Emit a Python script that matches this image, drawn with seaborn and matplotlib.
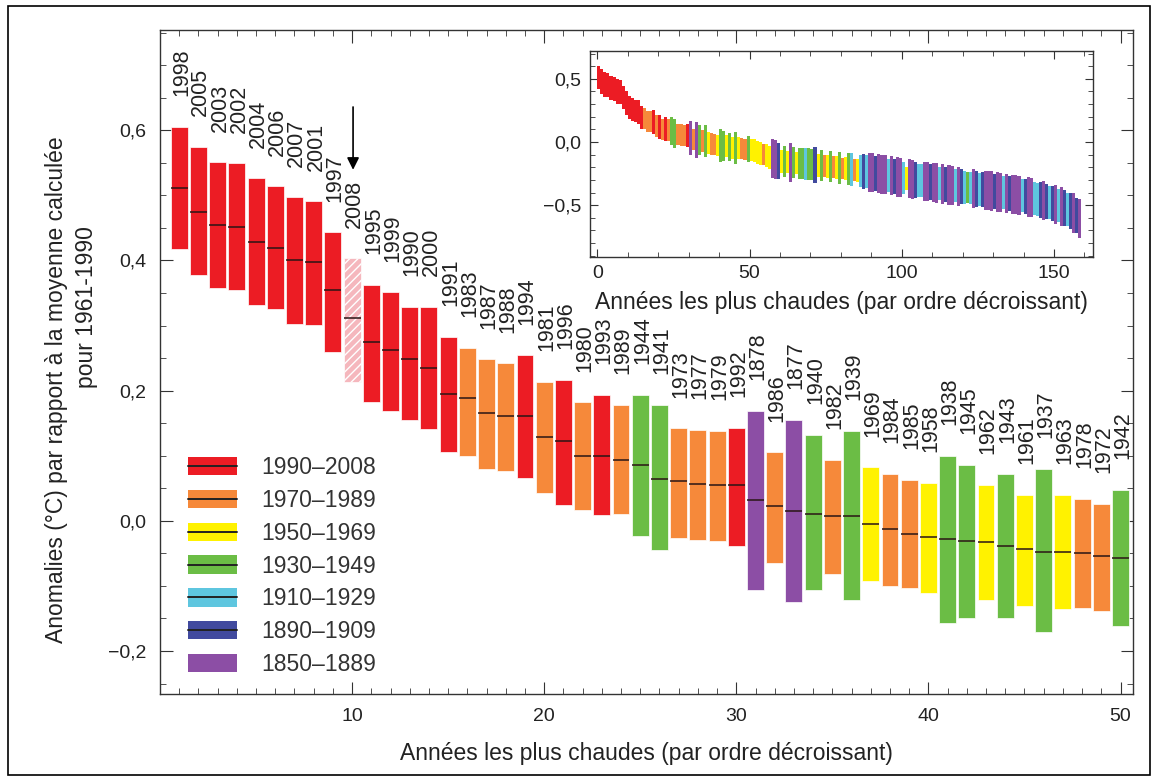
import numpy as np
import pandas as pd
import matplotlib
matplotlib.use("Agg")
import matplotlib.pyplot as plt
import seaborn as sns
from matplotlib import font_manager
from matplotlib.patches import Rectangle, Patch
from matplotlib.lines import Line2D
from matplotlib.legend_handler import HandlerBase
from matplotlib.ticker import MultipleLocator, FixedLocator, FuncFormatter

# 50 annees les plus chaudes (rang 1 -> 50)
years = [1998, 2005, 2003, 2002, 2004, 2006, 2007, 2001, 1997, 2008,
         1995, 1999, 1990, 2000, 1991, 1983, 1987, 1988, 1994, 1981,
         1996, 1980, 1993, 1989, 1944, 1941, 1973, 1977, 1979, 1992,
         1878, 1986, 1877, 1940, 1982, 1939, 1969, 1984, 1985, 1958,
         1938, 1945, 1962, 1943, 1961, 1937, 1963, 1978, 1972, 1942]
median = [0.512, 0.475, 0.455, 0.452, 0.429, 0.419, 0.401, 0.397, 0.354, 0.311,
          0.275, 0.262, 0.249, 0.235, 0.195, 0.188, 0.166, 0.161, 0.161, 0.129,
          0.122, 0.100, 0.100, 0.094, 0.086, 0.065, 0.061, 0.057, 0.055, 0.055,
          0.032, 0.023, 0.015, 0.011, 0.008, 0.008, -0.005, -0.012, -0.020, -0.025,
          -0.028, -0.031, -0.033, -0.038, -0.044, -0.048, -0.048, -0.049, -0.054, -0.057]
upper = [0.605, 0.575, 0.551, 0.549, 0.526, 0.514, 0.497, 0.491, 0.443, 0.403,
         0.363, 0.351, 0.329, 0.329, 0.283, 0.266, 0.248, 0.242, 0.254, 0.214,
         0.217, 0.182, 0.194, 0.178, 0.194, 0.178, 0.142, 0.140, 0.138, 0.143,
         0.169, 0.105, 0.155, 0.132, 0.094, 0.138, 0.082, 0.072, 0.063, 0.058,
         0.100, 0.086, 0.055, 0.072, 0.040, 0.080, 0.040, 0.034, 0.026, 0.048]
lower = [0.418, 0.377, 0.357, 0.354, 0.331, 0.325, 0.302, 0.301, 0.260, 0.214,
         0.183, 0.168, 0.155, 0.141, 0.106, 0.100, 0.080, 0.077, 0.066, 0.042,
         0.025, 0.017, 0.009, 0.010, -0.023, -0.045, -0.027, -0.029, -0.031, -0.038,
         -0.106, -0.065, -0.125, -0.106, -0.081, -0.121, -0.092, -0.100, -0.103, -0.111,
         -0.157, -0.149, -0.121, -0.149, -0.131, -0.171, -0.135, -0.134, -0.139, -0.162]
provisional = [2008]

# periodes de la legende
periods = ["1990–2008", "1970–1989", "1950–1969", "1930–1949",
           "1910–1929", "1890–1909", "1850–1889"]
period_start = [1990, 1970, 1950, 1930, 1910, 1890, 1850]
period_code = ["R", "O", "Y", "G", "C", "B", "P"]
period_colors = ["#ec1c24", "#f6893a", "#fff200", "#6bbd45",
                 "#5ec6df", "#414a9e", "#8c4ea5"]
period_halfwidth = [0.095, 0.085, 0.09, 0.125, 0.13, 0.14, 0.155]

# encart : rangs 51 -> 159 (periode + mediane)
inset_codes = ("YYYYOYYPPB" "YGYPGYGGCG" "GBYGOYGOYG" "OYGCOYCBCP" "PBPPPCPBPP"
               "CYPPBCCPPB" "PPCPBPPCPB" "CGCPBCBPPP" "BPPCPBPPPC" "BPPCCBPBCB"
               "PCPBCBPBP")
inset_median = [-0.063, -0.070, -0.081, -0.089, -0.100, -0.109, -0.121, -0.133, -0.141, -0.149,
                -0.152, -0.154, -0.159, -0.161, -0.162, -0.166, -0.169, -0.170, -0.174, -0.176,
                -0.179, -0.183, -0.184, -0.187, -0.190, -0.191, -0.195, -0.199, -0.201, -0.204,
                -0.208, -0.211, -0.213, -0.218, -0.221, -0.224, -0.229, -0.232, -0.236, -0.240,
                -0.243, -0.249, -0.252, -0.256, -0.259, -0.264, -0.268, -0.271, -0.277, -0.281,
                -0.285, -0.288, -0.292, -0.297, -0.300, -0.303, -0.307, -0.311, -0.314, -0.318,
                -0.322, -0.325, -0.329, -0.333, -0.336, -0.340, -0.343, -0.347, -0.351, -0.354,
                -0.357, -0.361, -0.364, -0.368, -0.371, -0.374, -0.378, -0.381, -0.385, -0.388,
                -0.392, -0.395, -0.399, -0.402, -0.406, -0.409, -0.413, -0.417, -0.421, -0.426,
                -0.430, -0.435, -0.441, -0.446, -0.452, -0.458, -0.465, -0.471, -0.479, -0.486,
                -0.494, -0.503, -0.512, -0.522, -0.534, -0.547, -0.562, -0.580, -0.603]

sns.set_style("ticks")
names = {f.name for f in font_manager.fontManager.ttflist}
base = "Liberation Sans" if "Liberation Sans" in names else "DejaVu Sans"
narrow = "Liberation Sans Narrow" if "Liberation Sans Narrow" in names else base
plt.rcParams['font.family'] = [base, 'DejaVu Sans']
plt.rcParams['axes.edgecolor'] = '#333333'
plt.rcParams['axes.linewidth'] = 1.0


def period_index(y):
    for i, s in enumerate(period_start):
        if y >= s:
            return i
    return len(period_start) - 1


def fr(v, pos=None):
    v = round(v, 2)
    if v == 0:
        return "0,0"
    return f"{v:.1f}".replace(".", ",").replace("-", "−")


class BarHandler(HandlerBase):
    # rectangle de couleur + trait de la mediane
    def __init__(self, with_line=True):
        super().__init__()
        self.with_line = with_line

    def create_artists(self, legend, orig, xd, yd, w, h, fontsize, trans):
        arts = [Rectangle((-xd, -yd), w, h, facecolor=orig.get_facecolor(),
                          edgecolor="none", transform=trans)]
        if self.with_line:
            arts.append(Line2D([-xd, -xd + w], [-yd + h / 2] * 2, color="#222222",
                               lw=1.4, transform=trans))
        return arts


df = pd.DataFrame({"rank": np.arange(1, len(years) + 1), "year": years,
                   "median": median, "upper": upper, "lower": lower})
df["period"] = df["year"].apply(period_index)
df["color"] = [period_colors[p] for p in df["period"]]

fig = plt.figure(figsize=(11.57, 7.8), dpi=100)
ax = fig.add_axes([160 / 1157, 1 - 694 / 780, 973 / 1157, 664 / 780])

normal = df[~df["year"].isin(provisional)]
prov = df[df["year"].isin(provisional)]
ax.bar(normal["rank"], normal["upper"] - normal["lower"], bottom=normal["lower"],
       width=0.88, color=normal["color"], edgecolor="white", linewidth=0.5)
ax.bar(prov["rank"], prov["upper"] - prov["lower"], bottom=prov["lower"],
       width=0.88, color="#f5b7bd", edgecolor="white", hatch="////", linewidth=0.5)
ax.hlines(df["median"], df["rank"] - 0.44, df["rank"] + 0.44,
          colors="#2a1515", linewidth=1.1)

for _, r in df.iterrows():
    ax.text(r["rank"] + 0.12, r["upper"] + 0.047, str(r["year"]), rotation=90,
            ha="center", va="bottom", fontsize=15.5, family=[narrow, 'DejaVu Sans'],
            color="#222222")

# fleche sur 2008
ax.annotate("", xy=(10.05, 0.535), xytext=(10.05, 0.64),
            arrowprops=dict(arrowstyle="-|>", color="black", lw=1.2, mutation_scale=18))

ax.set_xlim(0, 50.65)
ax.set_ylim(-0.266, 0.754)
ax.xaxis.set_major_locator(FixedLocator([10, 20, 30, 40, 50]))
ax.xaxis.set_minor_locator(MultipleLocator(1))
ax.yaxis.set_major_locator(MultipleLocator(0.2))
ax.yaxis.set_minor_locator(MultipleLocator(0.05))
ax.yaxis.set_major_formatter(FuncFormatter(fr))
ax.tick_params(which="both", direction="in", top=True, right=True, color="#333333")
ax.tick_params(which="major", length=9, labelsize=14, pad=10, labelcolor="#222222")
ax.tick_params(which="minor", length=4.5)
ax.set_xlabel("Années les plus chaudes (par ordre décroissant)", fontsize=16.5,
              labelpad=12, color="#222222")

fig.text(57 / 1157, 1 - 390 / 780, "Anomalies (°C) par rapport à la moyenne calculée",
         rotation=90, ha="center", va="center", fontsize=16.5, color="#222222")
fig.text(86 / 1157, 1 - 307 / 780, "pour 1961-1990",
         rotation=90, ha="center", va="center", fontsize=16.5, color="#222222")

# legende
handles = [Patch(facecolor=c, edgecolor="none") for c in period_colors]
hmap = {h: BarHandler(with_line=(code != "P")) for h, code in zip(handles, period_code)}
ax.legend(handles, periods, loc="lower left", bbox_to_anchor=(0.029, 0.027),
          frameon=False, fontsize=16.5, handlelength=2.15, handleheight=0.85,
          handletextpad=1.05, labelspacing=0.43, borderpad=0, borderaxespad=0,
          labelcolor="#333333", handler_map=hmap)

# encart : les 159 annees
ins = fig.add_axes([590 / 1157, 1 - 257 / 780, 503 / 1157, 206 / 780])
ins_rank = np.arange(1, len(years) + len(inset_codes) + 1)
ins_period = list(df["period"]) + [period_code.index(c) for c in inset_codes]
ins_hi = np.array(upper + [m + period_halfwidth[p] for m, p in
                           zip(inset_median, ins_period[len(years):])])
ins_lo = np.array(lower + [m - period_halfwidth[p] for m, p in
                           zip(inset_median, ins_period[len(years):])])
ins_col = [period_colors[p] for p in ins_period]
ins.bar(ins_rank - 0.5, ins_hi - ins_lo, bottom=ins_lo, width=1.0,
        color=ins_col, linewidth=0)
ins.set_xlim(-2.4, 162.8)
ins.set_ylim(-0.91, 0.72)
ins.xaxis.set_major_locator(MultipleLocator(50))
ins.xaxis.set_minor_locator(MultipleLocator(10))
ins.yaxis.set_major_locator(MultipleLocator(0.5))
ins.yaxis.set_minor_locator(MultipleLocator(0.1))
ins.yaxis.set_major_formatter(FuncFormatter(fr))
ins.tick_params(which="both", direction="in", top=True, right=True, color="#333333")
ins.tick_params(which="major", length=6, labelsize=14, pad=6, labelcolor="#222222")
ins.tick_params(which="minor", length=3.5)
ins.set_xlabel("Années les plus chaudes (par ordre décroissant)", fontsize=16.5,
               labelpad=6, color="#222222")

# cadre autour de la figure
fig.patches.append(Rectangle((0.007, 0.006), 0.987, 0.986, transform=fig.transFigure,
                             fill=False, edgecolor="black", linewidth=1.2))

fig.savefig("out.png", dpi=100)
